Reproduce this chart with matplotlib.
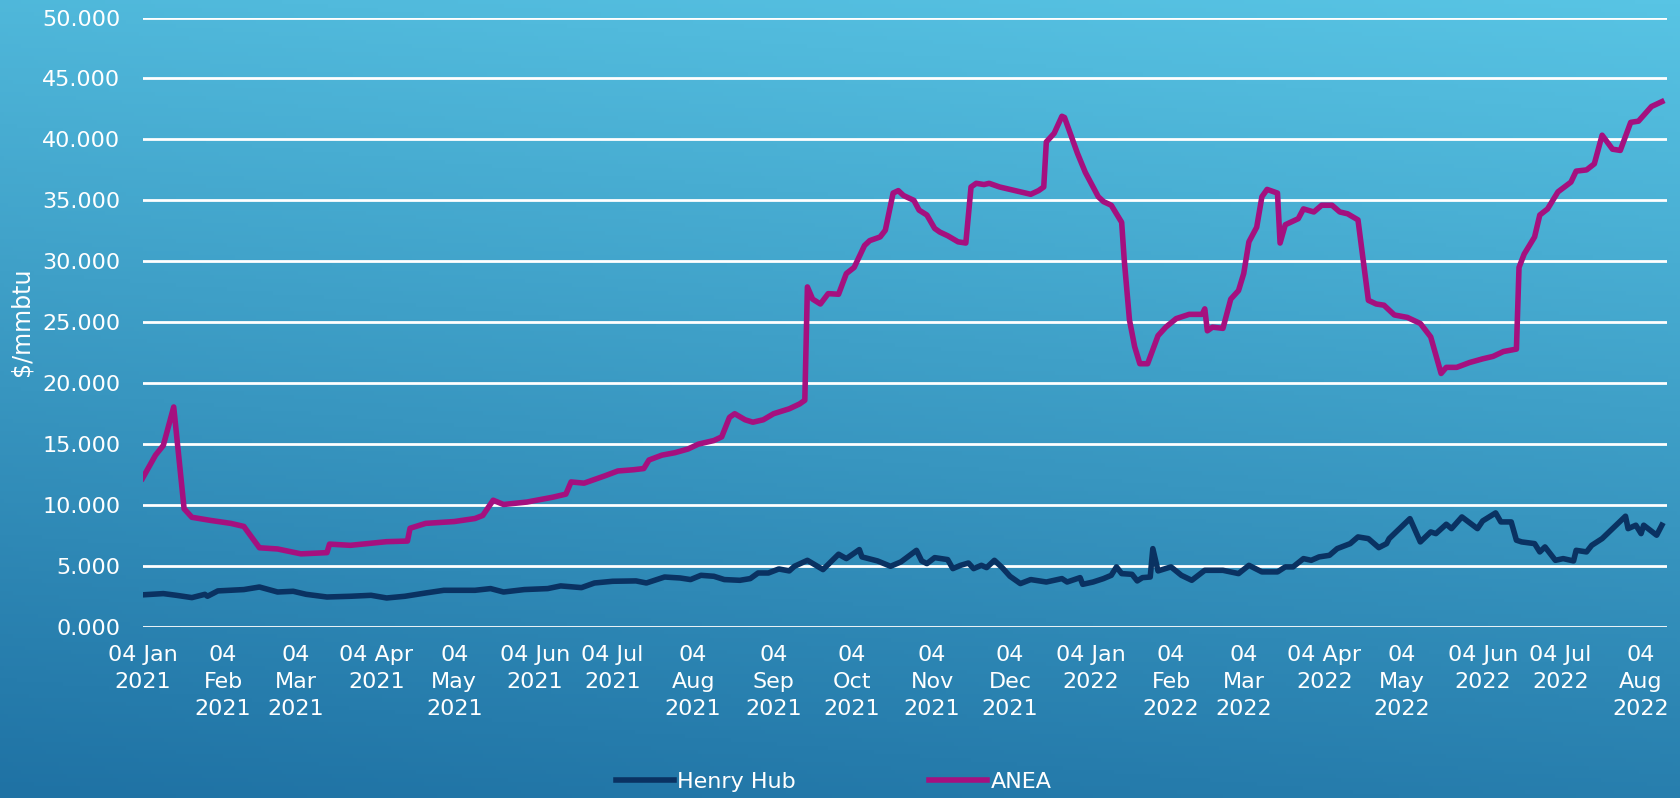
import numpy as np
import pandas as pd
import matplotlib
matplotlib.use("Agg")
from matplotlib import pyplot as plt
from matplotlib.colors import LinearSegmentedColormap
import matplotlib.dates as mdates

start = pd.Timestamp("2021-01-04")

# ANEA - days since 04 Jan 2021, $/mmbtu
anea_day = [0, 5, 8, 12, 16, 19, 26, 34, 39, 45, 52, 61, 71, 72, 80, 94, 102, 103, 109, 120,
            128, 131, 135, 139, 148, 158, 163, 165, 170, 174, 178, 183, 189, 193, 195, 200,
            205, 210, 214, 220, 223, 226, 228, 232, 235, 239, 243, 249, 253, 255, 256, 258,
            261, 264, 268, 271, 274, 278, 280, 284, 286, 289, 291, 293, 297, 299, 302, 305,
            307, 310, 314, 317, 319, 321, 324, 326, 330, 336, 342, 345, 347, 348, 351, 354,
            355, 360, 363, 368, 370, 373, 377, 378, 380, 382, 384, 387, 391, 394, 398, 403,
            408, 409, 410, 412, 416, 419, 422, 424, 426, 429, 431, 433, 437, 438, 440, 442,
            445, 447, 451, 454, 458, 461, 464, 468, 472, 475, 478, 482, 487, 492, 496, 500,
            502, 506, 511, 516, 520, 524, 529, 530, 532, 536, 538, 541, 545, 550, 552, 556,
            559, 562, 566, 569, 573, 576, 581, 585]
anea_val = [12.2, 14.1, 14.9, 18.05, 9.7, 9.0, 8.75, 8.5, 8.25, 6.5, 6.4, 6.0, 6.1, 6.8, 6.7,
            7.0, 7.05, 8.1, 8.5, 8.65, 8.9, 9.15, 10.4, 10.05, 10.25, 10.65, 10.9, 11.9, 11.8,
            12.1, 12.4, 12.8, 12.9, 13.0, 13.7, 14.1, 14.3, 14.6, 15.0, 15.3, 15.6, 17.2, 17.5,
            17.0, 16.8, 17.0, 17.5, 17.9, 18.3, 18.6, 27.9, 26.9, 26.5, 27.35, 27.3, 29.0, 29.5,
            31.3, 31.7, 32.0, 32.55, 35.6, 35.8, 35.4, 35.0, 34.2, 33.8, 32.7, 32.4, 32.1, 31.6,
            31.5, 36.1, 36.4, 36.3, 36.4, 36.1, 35.8, 35.5, 35.8, 36.1, 39.8, 40.5, 41.9, 41.8,
            38.85, 37.3, 35.3, 34.9, 34.6, 33.2, 30.1, 25.2, 23.0, 21.6, 21.6, 23.9, 24.6, 25.3,
            25.65, 25.65, 26.1, 24.3, 24.6, 24.5, 26.9, 27.6, 29.0, 31.6, 32.8, 35.3, 35.9, 35.6,
            31.5, 33.0, 33.2, 33.5, 34.3, 34.05, 34.6, 34.6, 34.05, 33.9, 33.4, 26.8, 26.5, 26.4,
            25.6, 25.4, 24.9, 23.8, 20.8, 21.3, 21.3, 21.7, 22.0, 22.2, 22.6, 22.8, 29.5, 30.6,
            32.0, 33.8, 34.3, 35.7, 36.5, 37.4, 37.5, 38.0, 40.35, 39.2, 39.1, 41.4, 41.5, 42.7,
            43.1]

# Henry Hub - days since 04 Jan 2021, $/mmbtu
hh_day = [1, 8, 13, 19, 24, 25, 29, 39, 45, 52, 58, 63, 71, 80, 88, 94, 101, 109, 116, 128,
          134, 139, 147, 156, 161, 169, 174, 181, 190, 194, 201, 207, 211, 215, 220, 224, 230,
          234, 237, 241, 245, 249, 251, 256, 262, 268, 271, 276, 277, 283, 288, 292, 298, 300,
          302, 305, 310, 312, 315, 318, 320, 323, 325, 328, 331, 334, 338, 342, 348, 354, 356,
          361, 362, 366, 370, 373, 375, 377, 381, 383, 385, 388, 389, 391, 396, 400, 404, 409,
          416, 422, 426, 431, 437, 440, 443, 447, 450, 453, 457, 460, 465, 468, 472, 476, 479,
          480, 488, 492, 496, 498, 502, 504, 508, 514, 516, 521, 523, 527, 529, 531, 536, 538,
          540, 544, 547, 551, 552, 556, 558, 562, 564, 568, 571, 572, 575, 577, 578, 583, 585]
hh_val = [2.65, 2.74, 2.6, 2.41, 2.68, 2.52, 2.96, 3.07, 3.28, 2.87, 2.93, 2.68, 2.46, 2.52,
          2.6, 2.38, 2.52, 2.79, 3.01, 3.01, 3.15, 2.87, 3.07, 3.15, 3.37, 3.23, 3.61, 3.75,
          3.78, 3.61, 4.1, 4.02, 3.89, 4.24, 4.16, 3.89, 3.83, 3.97, 4.43, 4.43, 4.76, 4.6, 4.98,
          5.47, 4.71, 5.97, 5.61, 6.35, 5.75, 5.42, 4.98, 5.34, 6.29, 5.42, 5.2, 5.69, 5.53,
          4.79, 5.06, 5.25, 4.79, 5.06, 4.87, 5.47, 4.87, 4.16, 3.56, 3.89, 3.69, 3.97, 3.69,
          4.05, 3.5, 3.69, 3.97, 4.24, 4.93, 4.38, 4.32, 3.78, 4.05, 4.1, 6.43, 4.6, 4.93, 4.24,
          3.83, 4.65, 4.65, 4.38, 5.06, 4.52, 4.52, 4.93, 4.93, 5.61, 5.47, 5.75, 5.88, 6.43,
          6.84, 7.39, 7.25, 6.51, 6.84, 7.25, 8.89, 6.98, 7.8, 7.66, 8.43, 8.07, 9.03, 8.07,
          8.7, 9.36, 8.62, 8.62, 7.12, 6.98, 6.84, 6.16, 6.57, 5.47, 5.61, 5.42, 6.29, 6.16,
          6.7, 7.25, 7.66, 8.48, 9.09, 8.07, 8.35, 7.66, 8.35, 7.53, 8.35]

tick_labels = ["04 Jan\n2021", "04\nFeb\n2021", "04\nMar\n2021", "04 Apr\n2021", "04\nMay\n2021",
               "04 Jun\n2021", "04 Jul\n2021", "04\nAug\n2021", "04\nSep\n2021", "04\nOct\n2021",
               "04\nNov\n2021", "04\nDec\n2021", "04 Jan\n2022", "04\nFeb\n2022", "04\nMar\n2022",
               "04 Apr\n2022", "04\nMay\n2022", "04 Jun\n2022", "04 Jul\n2022", "04\nAug\n2022"]

anea_dates = start + pd.to_timedelta(anea_day, unit="D")
hh_dates = start + pd.to_timedelta(hh_day, unit="D")

plt.rcParams['font.family'] = ['DejaVu Sans']
text_color = "#FFFFFF"

fig = plt.figure(figsize=(16.81, 7.98), dpi=100)

# gradient background: light cyan top-right, deeper blue bottom-left
bg = fig.add_axes([0, 0, 1, 1], zorder=0)
yy, xx = np.mgrid[0:1:200j, 0:1:400j]
grad = 0.85 * yy + 0.15 * xx
cmap = LinearSegmentedColormap.from_list("bg", ["#1F72A4", "#58C4E4"])
bg.imshow(grad, cmap=cmap, aspect="auto", extent=[0, 1, 0, 1], origin="lower", vmin=0, vmax=1)
bg.axis("off")

ax = fig.add_axes([0.0848, 0.2143, 0.9069, 0.7637], zorder=1)
ax.patch.set_alpha(0)

ax.plot(hh_dates, hh_val, color="#0A3262", lw=4, solid_joinstyle="round", label="Henry Hub", zorder=3)
ax.plot(anea_dates, anea_val, color="#A5107F", lw=4, solid_joinstyle="round", label="ANEA", zorder=4)

ax.set_ylim(0, 50)
ax.set_yticks(np.arange(0, 51, 5))
ax.set_yticklabels([f"{v:.3f}" for v in np.arange(0, 51, 5)])
ax.set_xlim(start, start + pd.Timedelta(days=587))
ax.xaxis.set_major_locator(mdates.MonthLocator(bymonthday=4))
ax.set_xticks(ax.get_xticks())
ax.set_xticklabels(tick_labels, linespacing=1.45)

ax.grid(axis="y", color="white", lw=2, zorder=1)
for spine in ax.spines.values():
    spine.set_visible(False)
ax.tick_params(axis="both", length=0, colors=text_color, labelsize=16)
ax.tick_params(axis="y", pad=16)
ax.tick_params(axis="x", pad=13)

fig.text(0.013, 0.5965, "$/mmbtu", rotation=90, color=text_color, fontsize=17, ha="center", va="center")

leg = fig.legend(loc="center", bbox_to_anchor=(0.496, 0.02), ncol=2, frameon=False,
                 fontsize=16, handlelength=2.6, handletextpad=0.15, columnspacing=6)
for t in leg.get_texts():
    t.set_color(text_color)

plt.savefig("out.png", dpi=100)
plt.close(fig)
